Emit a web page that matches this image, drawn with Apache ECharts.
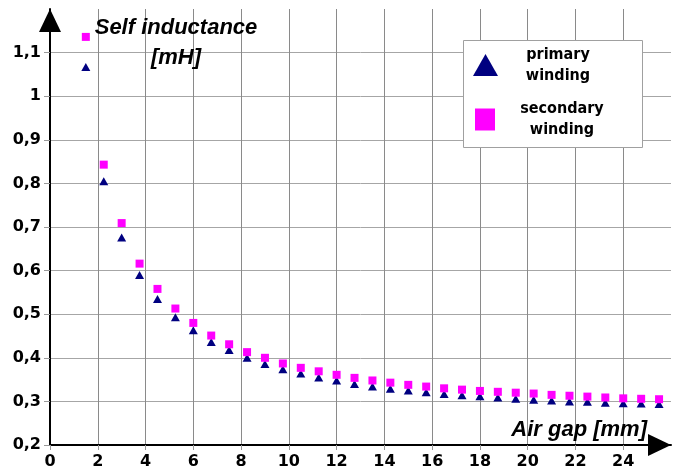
<!DOCTYPE html>
<html>
<head>
<meta charset="utf-8">
<script src="https://cdn.jsdelivr.net/npm/echarts@6/dist/echarts.min.js"></script>
<style>
  html, body { margin: 0; padding: 0; background: #ffffff; }
  #chart { width: 677px; height: 475px; }
</style>
</head>
<body>
<div id="chart"></div>
<script>
// Air gap [mm]
var airGap = [1.5, 2.25, 3, 3.75, 4.5, 5.25, 6, 6.75, 7.5, 8.25, 9, 9.75, 10.5, 11.25, 12, 12.75,
  13.5, 14.25, 15, 15.75, 16.5, 17.25, 18, 18.75, 19.5, 20.25, 21, 21.75, 22.5, 23.25, 24, 24.75, 25.5];
// Self inductance [mH]
var primaryWinding = [1.067, 0.805, 0.676, 0.590, 0.535, 0.493, 0.463, 0.436, 0.418, 0.400, 0.386, 0.374,
  0.364, 0.355, 0.348, 0.340, 0.334, 0.329, 0.325, 0.321, 0.317, 0.314, 0.312, 0.309, 0.306, 0.304,
  0.302, 0.300, 0.299, 0.297, 0.296, 0.295, 0.294];
var secondaryWinding = [1.136, 0.843, 0.709, 0.616, 0.558, 0.513, 0.480, 0.451, 0.431, 0.413, 0.400, 0.387,
  0.377, 0.369, 0.361, 0.354, 0.348, 0.343, 0.338, 0.334, 0.330, 0.327, 0.324, 0.322, 0.320, 0.318,
  0.315, 0.313, 0.311, 0.309, 0.307, 0.306, 0.305];
var seriesNames = ['primary winding', 'secondary winding'];
var legendLines = { 'primary winding': ['primary', 'winding'], 'secondary winding': ['secondary', 'winding'] };
var xTitle = 'Air gap [mm]';
var yTitle = 'Self inductance\n[mH]';

function pairs(xs, ys) {
  return xs.map(function (x, i) { return [x, ys[i]]; });
}

var chart = echarts.init(document.getElementById('chart'), null, { renderer: 'canvas' });
var labelFont = { fontFamily: 'DejaVu Sans', fontWeight: 'bold', fontSize: 16, color: '#000' };
var legendFont = 'DejaVu Sans Condensed, Liberation Sans, DejaVu Sans';

function legendFormatter(name) {
  return legendLines[name].map(function (s) { return '{t|' + s + '}'; }).join('\n');
}

chart.setOption({
  animation: false,
  backgroundColor: '#ffffff',
  grid: { left: 50, right: 6, top: 9, bottom: 30, outerBoundsMode: 'none', containLabel: false },
  xAxis: {
    type: 'value', min: 0, max: 26, interval: 2,
    name: xTitle, nameLocation: 'end', nameGap: -24, nameMoveOverlap: false,
    nameTextStyle: { fontFamily: 'Liberation Sans', fontStyle: 'italic', fontWeight: 'bold', fontSize: 22,
      color: '#000', align: 'right', verticalAlign: 'bottom', padding: [0, 0, 4, 0] },
    axisLine: { show: true, onZero: false, lineStyle: { color: '#000', width: 2 },
      symbol: ['none', 'triangle'], symbolSize: [22, 23], symbolOffset: [0, -11.5] },
    axisTick: { show: true, length: 5, lineStyle: { color: '#999', width: 1 } },
    axisLabel: Object.assign({ margin: 9, showMaxLabel: false, formatter: function (v) { return String(v); } }, labelFont),
    splitLine: { show: true, showMinLine: false, showMaxLine: false, lineStyle: { color: '#8a8a8a', width: 1 } }
  },
  yAxis: {
    type: 'value', min: 0.2, max: 1.2, interval: 0.1,
    name: yTitle, nameLocation: 'end', nameGap: -34, nameMoveOverlap: false,
    nameTextStyle: { fontFamily: 'Liberation Sans', fontStyle: 'italic', fontWeight: 'bold', fontSize: 22,
      color: '#000', align: 'center', verticalAlign: 'middle', lineHeight: 30, padding: [0, 0, 0, 252] },
    axisLine: { show: true, onZero: false, lineStyle: { color: '#000', width: 2 },
      symbol: ['none', 'triangle'], symbolSize: [22, 23], symbolOffset: [0, -11.5] },
    axisTick: { show: true, length: 6, lineStyle: { color: '#999', width: 1 } },
    axisLabel: Object.assign({ margin: 9, showMaxLabel: false, formatter: function (v) {
      return (Math.round(v * 10) / 10).toString().replace('.', ',');
    } }, labelFont),
    splitLine: { show: true, showMinLine: false, showMaxLine: false, lineStyle: { color: '#a6a6a6', width: 1 } }
  },
  graphic: [{
    type: 'rect', z: 3, silent: true,
    shape: { x: 463.5, y: 40.5, width: 179, height: 107 },
    style: { fill: '#ffffff', stroke: '#a0a0a0', lineWidth: 1 }
  }],
  legend: [{
    data: [{ name: seriesNames[0], icon: 'triangle' }],
    left: 473, top: 46.5, padding: 0, itemGap: 0,
    itemWidth: 25, itemHeight: 22,
    formatter: legendFormatter,
    textStyle: { rich: { t: { width: 110, align: 'center', lineHeight: 21, fontFamily: legendFont,
      fontWeight: 'bold', fontSize: 16, color: '#000' } } },
    selectedMode: false
  }, {
    data: [{ name: seriesNames[1], icon: 'rect' }],
    left: 475, top: 101, padding: 0, itemGap: 0,
    itemWidth: 20, itemHeight: 22,
    formatter: legendFormatter,
    textStyle: { rich: { t: { width: 124, align: 'center', lineHeight: 21, fontFamily: legendFont,
      fontWeight: 'bold', fontSize: 16, color: '#000' } } },
    selectedMode: false
  }],
  series: [{
    name: seriesNames[0], type: 'scatter', symbol: 'triangle', symbolSize: [9, 8],
    itemStyle: { color: '#000080', opacity: 1 },
    data: pairs(airGap, primaryWinding)
  }, {
    name: seriesNames[1], type: 'scatter', symbol: 'rect', symbolSize: [8, 8],
    itemStyle: { color: '#ff00ff', opacity: 1 },
    data: pairs(airGap, secondaryWinding)
  }]
});
</script>
</body>
</html>
